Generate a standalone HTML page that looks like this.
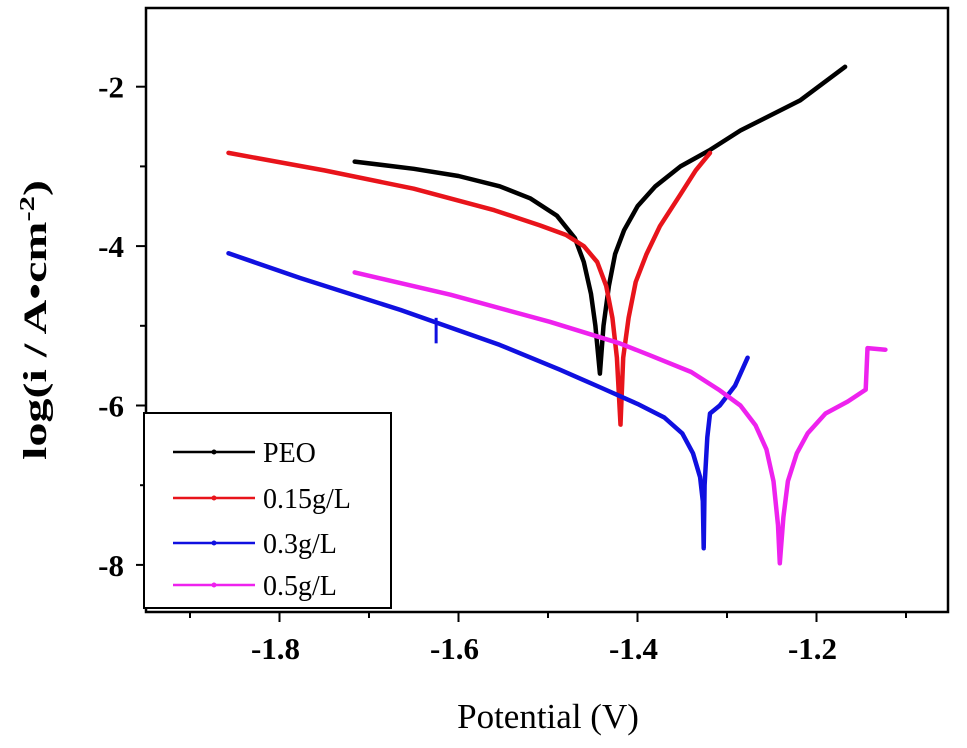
<!DOCTYPE html>
<html><head><meta charset="utf-8"><style>
html,body{margin:0;padding:0;background:#fff;}
svg{display:block;font-family:"Liberation Serif",serif;}
</style></head><body>
<svg id="chart" width="967" height="748" viewBox="0 0 967 748">
<g id="plot"></g>
</svg>
<script>
const xTicks=[-1.8,-1.6,-1.4,-1.2];
const xMinor=[-1.9,-1.7,-1.5,-1.3,-1.1];
const yTicks=[-2,-4,-6,-8];
const yMinor=[-3,-5,-7];
const seriesNames=["PEO","0.15g/L","0.3g/L","0.5g/L"];
const seriesColors=["#000000","#e8141b","#1010e0","#ee22ee"];
const peoX=[-1.716,-1.65,-1.6,-1.554,-1.52,-1.49,-1.47,-1.46,-1.452,-1.447,-1.442,-1.438,-1.432,-1.425,-1.415,-1.40,-1.38,-1.352,-1.32,-1.285,-1.218,-1.168];
const peoY=[-2.94,-3.03,-3.12,-3.25,-3.40,-3.62,-3.90,-4.2,-4.6,-5.0,-5.6,-5.0,-4.5,-4.1,-3.8,-3.5,-3.25,-3.0,-2.8,-2.55,-2.17,-1.75];
const r15X=[-1.857,-1.75,-1.65,-1.56,-1.509,-1.48,-1.46,-1.445,-1.435,-1.428,-1.423,-1.419,-1.416,-1.41,-1.402,-1.39,-1.375,-1.352,-1.335,-1.319];
const r15Y=[-2.83,-3.05,-3.28,-3.55,-3.74,-3.86,-4.0,-4.2,-4.5,-4.9,-5.4,-6.24,-5.4,-4.9,-4.45,-4.1,-3.75,-3.35,-3.05,-2.83];
const b3X=[-1.857,-1.777,-1.665,-1.554,-1.487,-1.44,-1.40,-1.37,-1.35,-1.338,-1.330,-1.327,-1.326,-1.325,-1.322,-1.319,-1.308,-1.291,-1.277];
const b3Y=[-4.09,-4.40,-4.80,-5.24,-5.55,-5.78,-5.98,-6.15,-6.35,-6.6,-6.9,-7.2,-7.79,-7.0,-6.4,-6.1,-6.0,-5.75,-5.40];
const m5X=[-1.716,-1.609,-1.498,-1.42,-1.386,-1.34,-1.308,-1.285,-1.268,-1.256,-1.248,-1.243,-1.241,-1.237,-1.232,-1.222,-1.21,-1.19,-1.165,-1.145,-1.143,-1.123];
const m5Y=[-4.33,-4.61,-4.95,-5.22,-5.37,-5.58,-5.81,-6.0,-6.25,-6.55,-6.95,-7.5,-7.98,-7.4,-6.95,-6.6,-6.35,-6.1,-5.95,-5.8,-5.28,-5.30];
const spikeX=[-1.625,-1.625];
const spikeY=[-4.9,-5.22];

const L=146,T=8,R=948,B=612;
function xs(v){return 279.5+(v+1.8)*895;}
function ys(v){return 86.7+(-2-v)*79.7;}
const NS="http://www.w3.org/2000/svg";
const g=document.getElementById('plot');
function mk(tag,attrs,parent){const e=document.createElementNS(NS,tag);for(const k in attrs)e.setAttribute(k,attrs[k]);(parent||g).appendChild(e);return e;}

const frame=mk('rect',{x:L,y:T,width:R-L,height:B-T,fill:'none',stroke:'#000','stroke-width':2.5});



xTicks.forEach(v=>{
  const t=mk('line',{x1:xs(v),x2:xs(v),y1:B,y2:B+10,stroke:'#000','stroke-width':2});
  
  
  const lb=mk('text',{x:xs(v)-4,y:B+47,'text-anchor':'middle','font-size':31,'font-weight':'bold'});
  lb.textContent=v.toFixed(1);
  
  
});
xMinor.forEach(v=>{
  const t=mk('line',{x1:xs(v),x2:xs(v),y1:B,y2:B+6,stroke:'#000','stroke-width':2});
  
  
});
yTicks.forEach(v=>{
  const t=mk('line',{x1:L-10,x2:L,y1:ys(v),y2:ys(v),stroke:'#000','stroke-width':2});
  
  
  const lb=mk('text',{x:L-22,y:ys(v)+11,'text-anchor':'end','font-size':31,'font-weight':'bold'});
  lb.textContent=String(v);
  
  
});
yMinor.forEach(v=>{
  const t=mk('line',{x1:L-6,x2:L,y1:ys(v),y2:ys(v),stroke:'#000','stroke-width':2});
  
  
});

const allX=[peoX,r15X,b3X,m5X],allY=[peoY,r15Y,b3Y,m5Y];
const curveNames=['curve-peo','curve-0-15gl','curve-0-3gl','curve-0-5gl'];
allX.forEach((xa,i)=>{
  const pts=xa.map((x,j)=>xs(x).toFixed(1)+','+ys(allY[i][j]).toFixed(1)).join(' ');
  const p=mk('polyline',{points:pts,fill:'none',stroke:seriesColors[i],'stroke-width':4.5,'stroke-linejoin':'round','stroke-linecap':'round'});
  
  
});
const sp=mk('polyline',{points:spikeX.map((x,j)=>xs(x)+','+ys(spikeY[j])).join(' '),fill:'none',stroke:seriesColors[2],'stroke-width':3});



const lg=mk('g',{});


mk('rect',{x:144,y:413,width:247,height:195,fill:'#fff',stroke:'#000','stroke-width':2},lg);
const ly=[452,498,543,585];
seriesNames.forEach((n,i)=>{
  const ln=mk('line',{x1:173,x2:255,y1:ly[i],y2:ly[i],stroke:seriesColors[i],'stroke-width':2.5},lg);
  
  
  mk('circle',{cx:214,cy:ly[i],r:2.5,fill:seriesColors[i]},lg);
  const t=mk('text',{x:263,y:ly[i]+10,'font-size':28},lg);
  t.textContent=n;
  
  
});

const xt=mk('text',{x:548,y:728,'text-anchor':'middle','font-size':35});
xt.textContent='Potential (V)';


const yt=mk('text',{x:0,y:0,'text-anchor':'middle','font-size':33,'font-weight':'bold',textLength:280,lengthAdjust:'spacingAndGlyphs',transform:'translate(46,320) rotate(-90)'});
yt.innerHTML='log(i / A•cm<tspan baseline-shift="super" font-size="21">-2</tspan>)';


</script>
</body></html>
